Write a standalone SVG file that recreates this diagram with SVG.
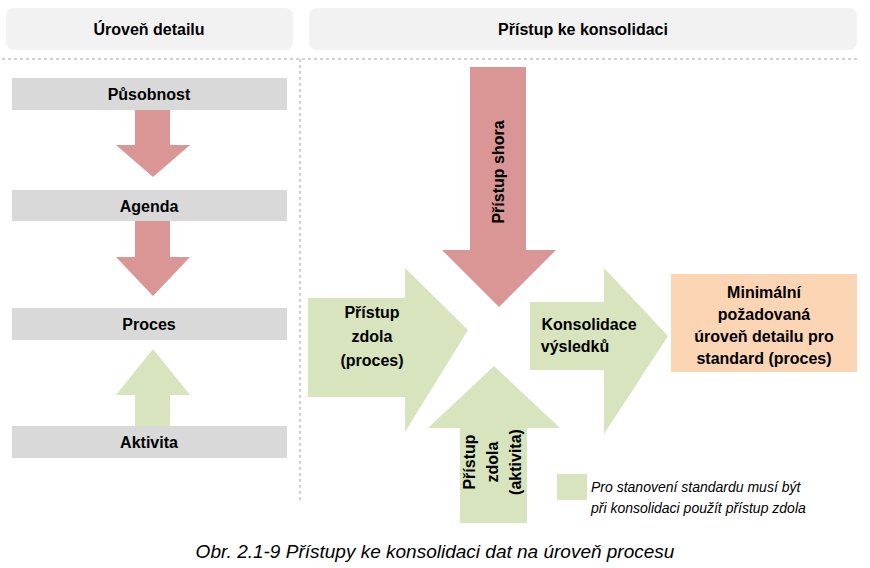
<svg xmlns="http://www.w3.org/2000/svg" width="870" height="568" viewBox="0 0 870 568">
<style>
text{font-family:"Liberation Sans",Arial,sans-serif;font-weight:bold;font-size:16px;fill:#000;text-anchor:middle}
.hdr{fill:#f2f2f2}
.bar{fill:#d9d9d9}
.red{fill:#d99694}
.grn{fill:#d7e4bd}
.dash{stroke:#a6a6a6;stroke-dasharray:3,3;fill:none}
.it{font-weight:normal;font-style:italic;text-anchor:start;font-size:14px}
</style>
<rect width="870" height="568" fill="#fff"/>
<g id="headers">
<rect class="hdr" x="6" y="8" width="287" height="42" rx="8"/>
<text x="149" y="35">Úroveň detailu</text>
<rect class="hdr" x="309" y="8" width="548" height="42" rx="8"/>
<text x="583" y="35">Přístup ke konsolidaci</text>
</g>
<g id="dividers">
<path class="dash" d="M2 59H857M300 59V500"/>
</g>
<g id="pusobnost"><rect class="bar" x="12" y="78" width="275" height="32"/><text x="149" y="100">Působnost</text></g>
<g id="agenda"><rect class="bar" x="12" y="190" width="275" height="31"/><text x="149" y="212">Agenda</text></g>
<g id="proces"><rect class="bar" x="12" y="308" width="275" height="32"/><text x="149" y="330">Proces</text></g>
<g id="aktivita"><rect class="bar" x="12" y="426" width="275" height="32"/><text x="149" y="448">Aktivita</text></g>
<g id="connectors">
<polygon class="red" points="135,110 170,110 170,145 190,145 153,177 116,145 135,145"/>
<polygon class="red" points="135,221 170,221 170,257 190,257 153,296 116,257 135,257"/>
<polygon class="grn" points="135,426 170,426 170,395 190,395 153,349 116,395 135,395"/>
</g>
<g id="shora">
<polygon class="red" points="470,67 526,67 526,250 556,250 499,307 442,250 470,250"/>
<text transform="translate(504,172) rotate(-90)">Přístup shora</text>
</g>
<g id="zdola-proces">
<polygon class="grn" points="308,298 405,298 405,268 468,330 405,432 405,397 308,397" />
<text x="372" y="318">Přístup</text><text x="372" y="342">zdola</text><text x="372" y="366">(proces)</text>
</g>
<g id="zdola-aktivita">
<polygon class="grn" points="460,523 527,523 527,428 560,428 494,366 428,428 460,428"/>
<text transform="translate(475,462) rotate(-90)">Přístup</text>
<text transform="translate(498,462) rotate(-90)">zdola</text>
<text transform="translate(521,462) rotate(-90)">(aktivita)</text>
</g>
<g id="konsolidace">
<polygon class="grn" points="530,302 604,302 604,268 668,336 604,434 604,370 530,370"/>
<text x="589" y="330">Konsolidace</text><text x="575" y="352" >výsledků</text>
</g>
<g id="vysledek">
<rect x="671" y="274" width="186" height="98" fill="#fcd5b5"/>
<text x="764" y="298">Minimální</text><text x="764" y="320">požadovaná</text><text x="764" y="342">úroveň detailu pro</text><text x="764" y="364">standard (proces)</text>
</g>
<g id="legenda">
<rect class="grn" x="557" y="474" width="30" height="26"/>
<text class="it" x="591" y="492">Pro stanovení standardu musí být</text>
<text class="it" x="591" y="513">při konsolidaci  použít přístup zdola</text>
</g>
<text x="435" y="558" style="font-weight:normal;font-style:italic;font-size:19px">Obr. 2.1-9 Přístupy ke konsolidaci dat na úroveň procesu</text>
</svg>
